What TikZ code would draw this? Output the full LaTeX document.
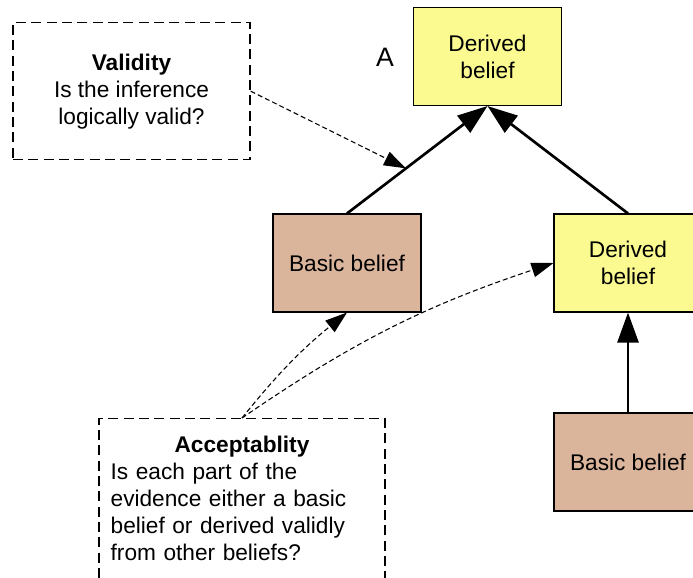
\documentclass[tikz,border=0pt]{standalone}
\usepackage{fontspec}
\setmainfont{Liberation Sans}
\usepackage{tikz}
\usetikzlibrary{arrows.meta}
\usetikzlibrary{positioning}
\setlength{\parindent}{0pt}

\definecolor{derivedfill}{RGB}{250,250,145}
\definecolor{basicfill}{RGB}{219,181,155}

\begin{document}
\begin{tikzpicture}[x=0.75pt, y=-0.75pt,
  every node/.style={font=\fontsize{17}{20.25}\selectfont},
  belief/.style={draw, line width=0.8pt, minimum width=111pt, minimum height=73.5pt, align=center, inner sep=2pt},
  derived/.style={belief, fill=derivedfill},
  basic/.style={belief, fill=basicfill},
  note/.style={draw, line width=1pt, dash pattern=on 7.5pt off 4pt},
  infer/.style={line width=2pt, -{Triangle[length=22.5pt, width=15.75pt]}},
  check/.style={line width=0.8pt, dash pattern=on 3.75pt off 2.25pt, -{Triangle[length=16.5pt, width=11pt]}}]
\useasboundingbox (0,0) rectangle (693,578);

\node[derived] (topd) at (487.5,56.5) {Derived\\belief};
\node[font=\fontsize{20}{24}\selectfont] (lblA) at (385,57) {A};
\node[basic] (basicL) at (347,263) {Basic belief};
\node[derived] (derR) at (628,263) {Derived\\belief};
\node[basic] (basicR) at (628,462) {Basic belief};

\node[note, anchor=north, minimum width=177.75pt, minimum height=102.75pt, align=center] (valid) at (131.5,22)
  {\textbf{Validity}\\Is the inference\\logically valid?};
\node[note, anchor=north, text width=197pt, inner xsep=8.75pt, inner ysep=13pt] (accept) at (242,418)
  {\centering\textbf{Acceptablity}\par
   \raggedright Is each part of the\\evidence either a basic\\belief or derived validly\\from other beliefs?\par
   \rule{0pt}{40pt}};

\draw[infer] (basicL.north) -- coordinate[pos=0.42] (hit) (topd.south);
\draw[infer] (derR.north) -- (topd.south);
\draw[infer] (basicR.north) -- (derR.south);

\draw[check] (valid.east) -- (hit);
\draw[check] (accept.north) to[bend left=6] (basicL.south);
\draw[check] (accept.north) to[bend left=8] (derR.west);

\end{tikzpicture}
\end{document}
